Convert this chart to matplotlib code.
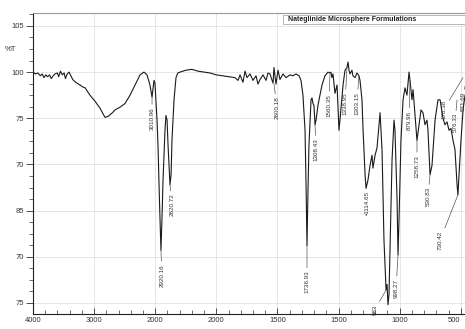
import matplotlib
matplotlib.use("Agg")
import matplotlib.pyplot as plt
from matplotlib.ticker import MultipleLocator
from matplotlib.patches import Rectangle

plt.rcParams['font.family'] = ['Liberation Sans', 'DejaVu Sans']

# spectrum (wavenumber, %T)
wavenumber = [4000, 3980, 3960, 3940, 3925, 3910, 3895, 3880, 3865, 3850, 3835, 3820, 3800, 3790,
              3775, 3760, 3745, 3735, 3720, 3705, 3690, 3675, 3660, 3640, 3615, 3595, 3574, 3534,
              3490, 3452, 3411, 3386, 3350, 3329, 3288, 3247, 3206, 3165, 3124, 3092, 3067, 3043,
              3026, 3010, 3002, 2985, 2977, 2965, 2953, 2945, 2936, 2920, 2912, 2903, 2895, 2879,
              2870, 2863, 2846, 2830, 2815, 2797, 2750, 2700, 2650, 2600, 2550, 2500, 2450, 2400,
              2347, 2322, 2306, 2282, 2265, 2249, 2224, 2200, 2175, 2159, 2142, 2118, 2093, 2077,
              2061, 2036, 2028, 2012, 1995, 1979, 1954, 1930, 1897, 1872, 1848, 1823, 1807, 1791,
              1774, 1766, 1758, 1750, 1742, 1725, 1717, 1709, 1701, 1692, 1684, 1668, 1652, 1635,
              1611, 1586, 1570, 1562, 1554, 1545, 1529, 1512, 1496, 1480, 1463, 1447, 1431, 1422,
              1414, 1406, 1390, 1382, 1365, 1349, 1333, 1324, 1308, 1300, 1283, 1275, 1259, 1242,
              1226, 1218, 1201, 1185, 1160, 1144, 1128, 1111, 1103, 1095, 1087, 1079, 1062, 1046,
              1038, 1021, 1013, 1005, 989, 972, 956, 940, 923, 915, 899, 890, 874, 858,
              841, 825, 809, 792, 776, 768, 751, 735, 710, 686, 669, 645, 629, 612,
              596, 580, 563, 547, 530, 523, 514, 498, 481, 465]
transmittance = [100.0, 99.8, 99.9, 99.6, 99.8, 99.4, 99.7, 99.5, 99.7, 99.3, 99.6, 99.8, 99.9, 99.5,
                 100.1, 99.7, 99.9, 99.3, 99.8, 100.0, 99.6, 99.2, 99.0, 98.8, 98.6, 98.4, 98.3, 97.5,
                 96.8, 96.1, 95.1, 95.2, 95.6, 95.9, 96.2, 96.6, 97.5, 98.6, 99.7, 100.0, 99.7, 98.6,
                 97.3, 99.1, 98.8, 94.8, 92.0, 86.0, 80.7, 84.0, 88.3, 93.7, 95.3, 94.8, 92.1, 87.8,
                 88.9, 92.6, 97.0, 99.4, 99.9, 100.0, 100.2, 100.3, 100.1, 100.0, 99.9, 99.7, 99.6, 99.5,
                 99.4, 99.1, 99.7, 98.9, 100.1, 99.4, 99.8, 99.1, 99.6, 98.7, 99.2, 99.7, 99.1, 99.9,
                 99.8, 98.8, 100.5, 98.7, 100.2, 99.2, 99.8, 99.4, 99.7, 99.6, 99.8, 99.6, 99.1, 97.5,
                 93.7, 88.0, 81.2, 87.0, 92.0, 97.0, 97.2, 96.6, 96.4, 94.3, 94.8, 96.4, 97.5, 98.6,
                 99.6, 100.0, 99.9, 100.0, 99.4, 99.8, 97.7, 98.6, 93.7, 96.0, 98.6, 100.2, 100.5, 101.1,
                 100.2, 99.8, 100.2, 99.6, 99.4, 99.9, 99.6, 99.1, 97.0, 94.0, 89.0, 87.4, 88.3, 89.9,
                 91.0, 89.6, 91.0, 91.8, 95.6, 91.6, 81.8, 76.4, 77.0, 74.8, 75.9, 80.7, 90.5, 94.8,
                 93.7, 86.2, 80.2, 84.0, 92.6, 97.0, 98.3, 97.5, 100.0, 99.1, 97.0, 98.1, 95.3, 92.6,
                 94.3, 95.9, 95.6, 94.3, 94.8, 93.7, 88.9, 89.9, 94.8, 97.0, 97.0, 95.0, 94.3, 94.6,
                 93.7, 93.9, 92.6, 91.6, 87.8, 86.7, 88.9, 92.6, 95.9, 97.5]

x_ticks = [4000, 3500, 3000, 2500, 2000, 1500, 1000, 500]
x_tick_labels = ["4000", "3000", "2000", "2000", "1500", "1500", "1000", "500"]
y_ticks = [105, 100, 95, 90, 85, 80, 75]
y_tick_labels = ["105", "100", "75", "70", "85", "70", "75"]

peak_labels = ["3010.96", "2920.16", "2620.72", "2600.18", "1736.93", "1308.43", "1560.35",
               "1338.95", "1303.15", "\u20221114.65", "983", "998.27", "879.96", "1258.73",
               "530.83", "730.42", "178.38", "576.33", "571.69"]
peak_x = [3026, 2953, 2879, 2028, 1758, 1692, 1570, 1431, 1333, None, 1111, 1013, 915, 858,
          751, 523, 481, 530, 465]
peak_y = [97.3, 80.7, 87.8, 98.7, 81.2, 94.3, 99.9, 100.5, 99.6, None, 76.4, 80.2, 99.1, 92.6,
          88.9, 86.7, 99.4, 97.0, 98.5]
# where each label text sits
label_xy = [(3026, 95.0), (2945, 78.0), (2863, 85.6), (2003, 96.1), (1758, 77.3), (1684, 91.6),
            (1578, 96.4), (1447, 96.6), (1349, 96.6), (1267, 85.8), (1201, 74.3), (1029, 76.6),
            (923, 94.8), (858, 89.8), (768, 86.5), (669, 81.8), (637, 96.0), (547, 94.5),
            (481, 96.8)]

fig = plt.figure(figsize=(4.65, 3.29), dpi=100)
ax = fig.add_axes([33 / 465, 15 / 329, 432 / 465, 301 / 329])

ax.plot(wavenumber, transmittance, color='#1a1a1a', lw=0.8)

ax.set_xlim(4000, 465)
ax.set_ylim(73.8, 106.4)
ax.set_xticks(x_ticks)
ax.set_xticklabels(x_tick_labels)
ax.get_xticklabels()[-1].set_horizontalalignment('right')
ax.set_yticks(y_ticks)
ax.set_yticklabels(y_tick_labels)
ax.xaxis.set_minor_locator(MultipleLocator(100))
ax.yaxis.set_minor_locator(MultipleLocator(1.25))
ax.tick_params(axis='x', which='both', direction='in', labelsize=5.5, colors='#333333', pad=2)
ax.tick_params(axis='x', which='major', length=4, width=0.6)
ax.tick_params(axis='x', which='minor', length=3, width=0.5)
ax.tick_params(axis='y', which='both', direction='out', labelsize=5.5, colors='#333333', pad=1.5)
ax.tick_params(axis='y', which='major', length=5, width=0.6)
ax.tick_params(axis='y', which='minor', length=3, width=0.5)
ax.grid(True, which='major', color='#e2e2e2', lw=0.6)

for side in ['left', 'bottom']:
    ax.spines[side].set_color('#222222')
    ax.spines[side].set_linewidth(0.8)
ax.spines['top'].set_color('#999999')
ax.spines['right'].set_visible(False)

ax.text(-0.038, 102.4, "%T", transform=ax.get_yaxis_transform(), ha='right', va='center',
        fontsize=5.5, color='#333333')

for lbl, px, py, (tx, ty) in zip(peak_labels, peak_x, peak_y, label_xy):
    if px is None:
        ax.text(tx, ty, lbl, rotation=90, ha='center', va='center', fontsize=4.5,
                color='#333333', clip_on=False)
    else:
        ax.annotate(lbl, xy=(px, py), xytext=(tx, ty), rotation=90, ha='center', va='center',
                    fontsize=4.5, color='#333333', annotation_clip=False,
                    arrowprops=dict(arrowstyle='-', color='#555555', lw=0.5,
                                    shrinkA=0, shrinkB=0))

# title box in the upper right
ax.add_patch(Rectangle((0.579, 0.962), 0.421, 0.033, transform=ax.transAxes,
                       facecolor='white', edgecolor='#aaaaaa', lw=0.6, clip_on=False, zorder=5))
ax.text(0.590, 0.978, "Nateglinide Microsphere Formulations", transform=ax.transAxes,
        ha='left', va='center', fontsize=5, fontweight='bold', color='#222222', zorder=6)

fig.savefig("out.png", dpi=100)
